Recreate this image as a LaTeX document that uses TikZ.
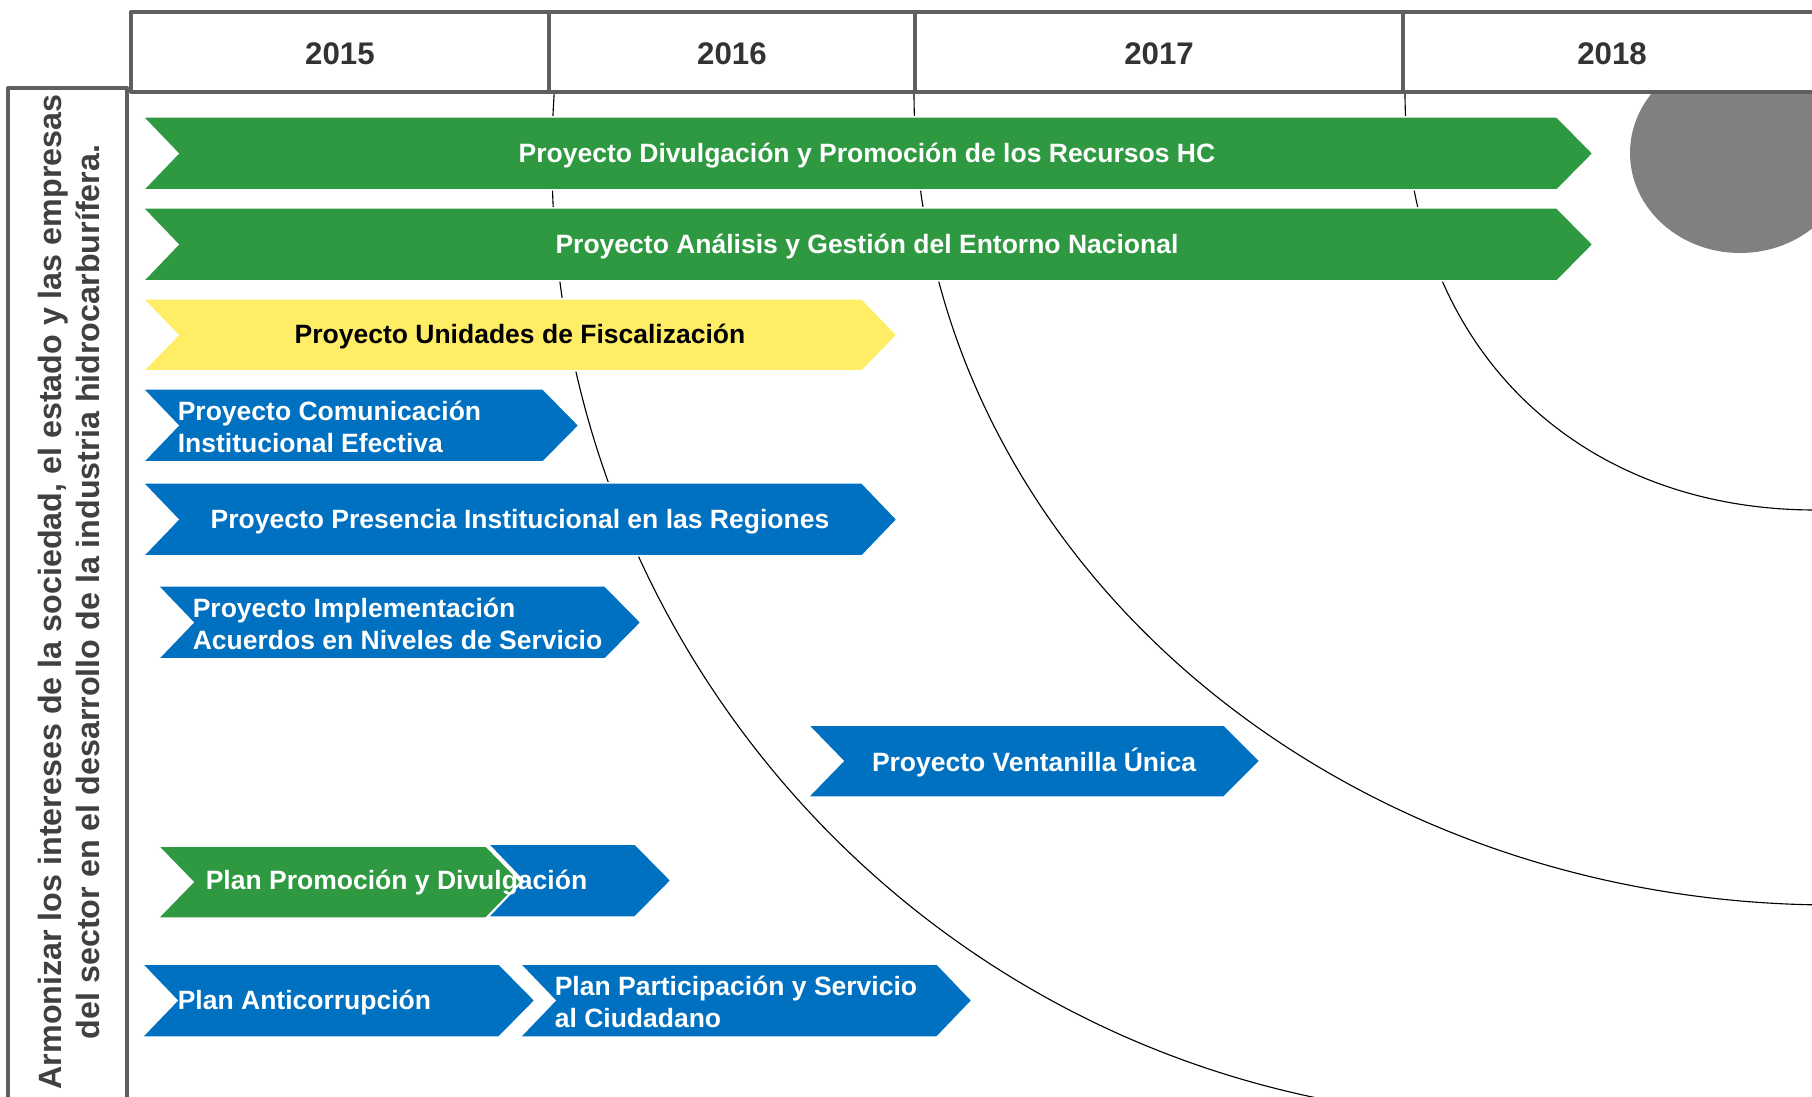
\documentclass[tikz,border=0pt]{standalone}
\usepackage{fontspec}
\setmainfont{Liberation Sans}

\definecolor{hcgreen}{RGB}{46,153,65}
\definecolor{hcblue}{RGB}{0,112,192}
\definecolor{hcyellow}{RGB}{255,237,102}
\definecolor{framegray}{RGB}{95,95,95}
\definecolor{yeartext}{RGB}{51,51,51}
\definecolor{sidetext}{RGB}{64,64,64}
\definecolor{discgray}{RGB}{128,128,128}

\tikzset{every picture/.style={line width=0.75pt}}
\tikzset{
  hdrframe/.style={draw=framegray, line width=1.6pt, line join=round},
  ring/.style={draw=black, line width=0.45pt},
  chevgreen/.style={draw=white, line width=0.6pt, fill=hcgreen},
  chevblue/.style={draw=white, line width=0.6pt, fill=hcblue},
  chevyellow/.style={draw=white, line width=0.6pt, fill=hcyellow},
  year/.style={inner sep=0.75pt, text=yeartext, font=\bfseries\fontsize{12.5}{15}\selectfont},
  chevtext/.style={inner sep=0.75pt, align=left, text=white, font=\bfseries\fontsize{10.6}{12.8}\selectfont},
  sidenote/.style={inner sep=0.75pt, align=center, rotate=90, text=sidetext, font=\bfseries\fontsize{12.9}{15.4}\selectfont}
}

\begin{document}
\begin{tikzpicture}[x=0.4pt,y=0.4pt,yscale=-1,xscale=1]
\useasboundingbox (0,0) rectangle (1812,1097);
\clip (0,0) rectangle (1812,1097);

%Shape: Ellipse
\draw [draw=none, fill=discgray] (1740,153) ellipse [x radius=110, y radius=100];
%Curve Lines
\draw [ring] (1405,92) .. controls (1405,350) and (1580,510) .. (1815,510) ;
%Curve Lines
\draw [ring] (914,92) .. controls (914,545) and (1325,905) .. (1833,905) ;
%Shape: Arc
\draw [ring] (1512,158) ++(183.95:960) arc [start angle=183.95, end angle=100, radius=960] ;

%Shape: Rectangle
\draw [hdrframe, fill=white] (131,12) rectangle (1830,92) ;
%Straight Lines
\draw [hdrframe] (549,12) -- (549,92) ;
%Straight Lines
\draw [hdrframe] (915,12) -- (915,92) ;
%Straight Lines
\draw [hdrframe] (1403,12) -- (1403,92) ;
%Shape: Rectangle
\draw [hdrframe] (8,1120) -- (8,88) -- (127,88) -- (127,1120) ;

%Shape: Chevron
\draw [chevgreen] (143,117) -- (1557,117) -- (1593,153.5) -- (1557,190) -- (143,190) -- (178,153.5) -- cycle ;
%Shape: Chevron
\draw [chevgreen] (143,208) -- (1557,208) -- (1593,244.5) -- (1557,281) -- (143,281) -- (178,244.5) -- cycle ;
%Shape: Chevron
\draw [chevyellow] (143,299) -- (862,299) -- (897,335) -- (862,371) -- (143,371) -- (178,335) -- cycle ;
%Shape: Chevron
\draw [chevblue] (143,389) -- (543,389) -- (579,425.5) -- (543,462) -- (143,462) -- (178,425.5) -- cycle ;
%Shape: Chevron
\draw [chevblue] (143,483) -- (862,483) -- (897,519.5) -- (862,556) -- (143,556) -- (178,519.5) -- cycle ;
%Shape: Chevron
\draw [chevblue] (158,586) -- (605,586) -- (641,622.5) -- (605,659) -- (158,659) -- (193,622.5) -- cycle ;
%Shape: Chevron
\draw [chevblue] (808,725) -- (1224,725) -- (1260,761) -- (1224,797) -- (808,797) -- (843,761) -- cycle ;
%Shape: Chevron
\draw [chevblue] (488,844) -- (635,844) -- (671,880.5) -- (635,917) -- (488,917) -- (523,880.5) -- cycle ;
%Shape: Chevron
\draw [chevgreen] (158,846) -- (486,846) -- (521,882) -- (486,918) -- (158,918) -- (193,882) -- cycle ;
%Shape: Chevron
\draw [chevblue] (142,964) -- (499,964) -- (535,1000.5) -- (499,1037) -- (142,1037) -- (177,1000.5) -- cycle ;
%Shape: Chevron
\draw [chevblue] (520,964) -- (937,964) -- (972,1000.5) -- (937,1037) -- (520,1037) -- (555,1000.5) -- cycle ;

% Text Node
\draw (340,53.5) node (yr2015) [year] {2015};
% Text Node
\draw (732,53.5) node (yr2016) [year] {2016};
% Text Node
\draw (1159,53.5) node (yr2017) [year] {2017};
% Text Node
\draw (1612,53.5) node (yr2018) [year] {2018};
% Text Node
\draw (69,592) node (objetivo) [sidenote] {Armonizar los intereses de la sociedad, el estado y las empresas\\del sector en el desarrollo de la industria hidrocarburífera.};
% Text Node
\draw (867,155.5) node (divulgacion) [chevtext] {Proyecto Divulgación y Promoción de los Recursos HC};
% Text Node
\draw (867,246.5) node (entorno) [chevtext] {Proyecto Análisis y Gestión del Entorno Nacional};
% Text Node
\draw (520,337) node (fiscalizacion) [chevtext, text=black] {Proyecto Unidades de Fiscalización};
% Text Node
\draw (175,427) node (comunicacion) [chevtext, anchor=west] {Proyecto Comunicación\\Institucional Efectiva};
% Text Node
\draw (520,521.5) node (presencia) [chevtext] {Proyecto Presencia Institucional en las Regiones};
% Text Node
\draw (190,624) node (acuerdos) [chevtext, anchor=west] {Proyecto Implementación\\Acuerdos en Niveles de Servicio};
% Text Node
\draw (1034,763) node (ventanilla) [chevtext] {Proyecto Ventanilla Única};
% Text Node
\draw (203,883) node (planpromo) [chevtext, anchor=west] {Plan Promoción y Divulgación};
% Text Node
\draw (175,1002.5) node (anticorrupcion) [chevtext, anchor=west] {Plan Anticorrupción};
% Text Node
\draw (552,1002) node (ciudadano) [chevtext, anchor=west] {Plan Participación y Servicio\\al Ciudadano};

\end{tikzpicture}
\end{document}
